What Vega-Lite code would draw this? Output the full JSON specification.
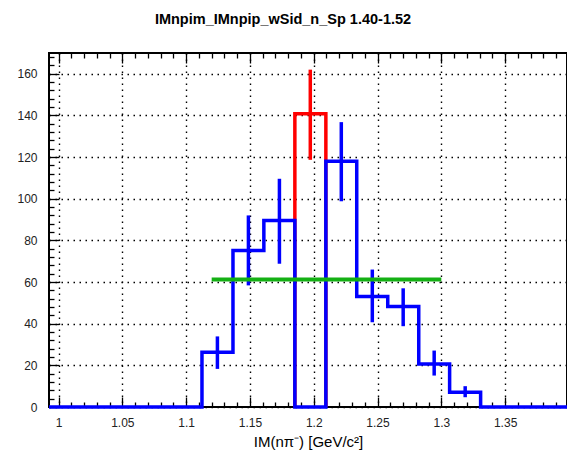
{
  "$schema": "https://vega.github.io/schema/vega-lite/v6.json",
  "width": 518,
  "height": 354,
  "autosize": {"type": "none"},
  "padding": {"left": 49, "top": 53, "right": 0, "bottom": 45},
  "background": "white",
  "title": {"text": "IMnpim_IMnpip_wSid_n_Sp 1.40-1.52", "font": "Liberation Sans", "fontSize": 14.5, "fontWeight": "bold", "color": "black", "offset": 24, "anchor": "middle", "dx": -25},
  "config": {"view": {"stroke": "black", "strokeWidth": 2}},
  "datasets": {
    "blue": [
      {"i": 0, "x": 0.9925, "y": 0},
      {"i": 1, "x": 1.1124, "y": 26.3},
      {"i": 2, "x": 1.1367, "y": 75.2},
      {"i": 3, "x": 1.1609, "y": 89.6},
      {"i": 4, "x": 1.1852, "y": 0},
      {"i": 5, "x": 1.2095, "y": 118},
      {"i": 6, "x": 1.2337, "y": 53.1},
      {"i": 7, "x": 1.258, "y": 48.3},
      {"i": 8, "x": 1.2823, "y": 20.7},
      {"i": 9, "x": 1.3065, "y": 7.1},
      {"i": 10, "x": 1.3308, "y": 0},
      {"i": 11, "x": 1.3985, "y": 0}
    ],
    "red": [
      {"i": 0, "x": 1.1852, "y": 0},
      {"i": 1, "x": 1.1852, "y": 140.8},
      {"i": 2, "x": 1.2095, "y": 0}
    ],
    "blueErr": [
      {"x": 1.1245, "y": 18.3, "y2": 33.9},
      {"x": 1.1488, "y": 58.4, "y2": 92},
      {"x": 1.1731, "y": 68.8, "y2": 109.6},
      {"x": 1.2216, "y": 98.8, "y2": 136.8},
      {"x": 1.2459, "y": 40.7, "y2": 66},
      {"x": 1.2701, "y": 38.8, "y2": 57},
      {"x": 1.2944, "y": 15.1, "y2": 27.1},
      {"x": 1.3187, "y": 4.7, "y2": 10}
    ],
    "redErr": [
      {"x": 1.1973, "y": 118.7, "y2": 162}
    ],
    "fit": [
      {"x": 1.12, "x2": 1.3, "y": 61.2}
    ]
  },
  "layer": [
    {
      "layer": [
        {
          "data": {"name": "red"},
          "mark": {"type": "line", "interpolate": "step-after", "color": "#ff0000", "strokeWidth": 3.5, "strokeJoin": "miter"},
          "encoding": {
            "x": {"field": "x", "type": "quantitative", "scale": {"domain": [0.9925, 1.3985], "nice": false, "zero": false},
              "title": "IM(nπ⁻) [GeV/c²]",
              "axis": {
                "orient": "bottom",
                "values": [1.0,1.01,1.02,1.03,1.04,1.05,1.06,1.07,1.08,1.09,1.1,1.11,1.12,1.13,1.14,1.15,1.16,1.17,1.18,1.19,1.2,1.21,1.22,1.23,1.24,1.25,1.26,1.27,1.28,1.29,1.3,1.31,1.32,1.33,1.34,1.35,1.36,1.37,1.38,1.39],
                "tickCount": 200,
                "domain": false,
                "grid": true,
                "gridColor": "black",
                "gridDash": [1.5, 4.5],
                "gridWidth": 1.4,
                "gridOpacity": {"condition": {"test": "abs(datum.value*20 - round(datum.value*20)) < 0.001", "value": 1}, "value": 0},
                "tickColor": "black",
                "tickWidth": 1.3,
                "tickSize": {"condition": {"test": "abs(datum.value*20 - round(datum.value*20)) < 0.001", "value": -10}, "value": -5},
                "labelExpr": "abs(datum.value*20 - round(datum.value*20)) < 0.001 ? format(datum.value, '.3~f') : ''",
                "labelPadding": 20,
                "labelFont": "Liberation Sans",
                "labelFontSize": 12,
                "labelColor": "#222",
                "labelFlush": false,
                "labelOverlap": false,
                "labelBound": false,
                "titleFont": "Liberation Sans",
                "titleFontSize": 15,
                "titleFontWeight": "normal",
                "titleColor": "black",
                "titlePadding": 1
              }
            },
            "y": {"field": "y", "type": "quantitative", "scale": {"domain": [0, 170], "nice": false, "zero": true},
              "title": null,
              "axis": {
                "orient": "left",
                "values": [0,4,8,12,16,20,24,28,32,36,40,44,48,52,56,60,64,68,72,76,80,84,88,92,96,100,104,108,112,116,120,124,128,132,136,140,144,148,152,156,160,164,168],
                "tickCount": 200,
                "domain": false,
                "grid": true,
                "gridColor": "black",
                "gridDash": [1.5, 4.5],
                "gridWidth": 1.4,
                "gridOpacity": {"condition": {"test": "datum.value % 20 == 0", "value": 1}, "value": 0},
                "tickColor": "black",
                "tickWidth": 1.3,
                "tickSize": {"condition": {"test": "datum.value % 20 == 0", "value": -10}, "value": -5},
                "labelExpr": "datum.value % 20 == 0 ? format(datum.value, 'd') : ''",
                "labelPadding": 22,
                "labelAlign": "right",
                "labelFont": "Liberation Sans",
                "labelFontSize": 12,
                "labelColor": "#222",
                "labelFlush": false,
                "labelOverlap": false,
                "labelBound": false,
                "encode": {"labels": {"update": {"dx": {"value": -16}}}}
              }
            },
            "order": {"field": "i", "type": "quantitative"}
          }
        },
        {
          "data": {"name": "blue"},
          "mark": {"type": "line", "interpolate": "step-after", "color": "#0000ff", "strokeWidth": 3.5, "strokeJoin": "miter"},
          "encoding": {
            "x": {"field": "x", "type": "quantitative", "title": "IM(nπ⁻) [GeV/c²]"},
            "y": {"field": "y", "type": "quantitative", "title": null},
            "order": {"field": "i", "type": "quantitative"}
          }
        },
        {
          "data": {"name": "blueErr"},
          "mark": {"type": "rule", "color": "#0000ff", "strokeWidth": 3.5},
          "encoding": {
            "x": {"field": "x", "type": "quantitative", "title": "IM(nπ⁻) [GeV/c²]"},
            "y": {"field": "y", "type": "quantitative", "title": null},
            "y2": {"field": "y2"}
          }
        },
        {
          "data": {"name": "redErr"},
          "mark": {"type": "rule", "color": "#ff0000", "strokeWidth": 3.5},
          "encoding": {
            "x": {"field": "x", "type": "quantitative", "title": "IM(nπ⁻) [GeV/c²]"},
            "y": {"field": "y", "type": "quantitative", "title": null},
            "y2": {"field": "y2"}
          }
        }
      ]
    },
    {
      "data": {"name": "fit"},
      "mark": {"type": "rule", "color": "#14b014", "strokeWidth": 4},
      "encoding": {
        "x": {"field": "x", "type": "quantitative", "scale": {"domain": [0.9925, 1.3985], "nice": false, "zero": false},
          "title": null,
          "axis": {
            "orient": "top",
            "values": [1.0,1.01,1.02,1.03,1.04,1.05,1.06,1.07,1.08,1.09,1.1,1.11,1.12,1.13,1.14,1.15,1.16,1.17,1.18,1.19,1.2,1.21,1.22,1.23,1.24,1.25,1.26,1.27,1.28,1.29,1.3,1.31,1.32,1.33,1.34,1.35,1.36,1.37,1.38,1.39],
            "tickCount": 200,
            "domain": false,
            "grid": false,
            "labels": false,
            "tickColor": "black",
            "tickWidth": 1.3,
            "tickSize": {"condition": {"test": "abs(datum.value*20 - round(datum.value*20)) < 0.001", "value": -10}, "value": -5},
            "minExtent": 0,
            "maxExtent": 0
          }
        },
        "x2": {"field": "x2"},
        "y": {"field": "y", "type": "quantitative", "title": null}
      }
    }
  ],
  "resolve": {"axis": {"x": "independent"}}
}
